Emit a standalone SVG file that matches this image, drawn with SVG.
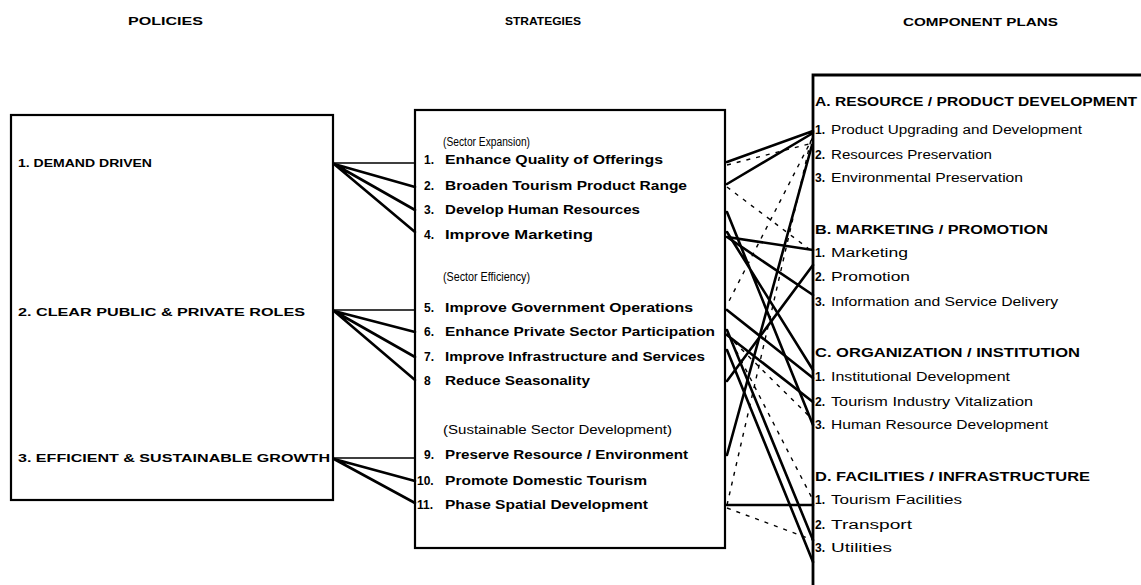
<svg xmlns="http://www.w3.org/2000/svg" width="1141" height="585" viewBox="0 0 1141 585">
<style>
text{font-family:"Liberation Sans",Arial,sans-serif;fill:#000}
.h{font-size:11px;font-weight:bold}
.p{font-size:11.5px;font-weight:bold}
.s{font-size:12px;font-weight:bold}
.sh{font-size:12px}
.ch{font-size:12px;font-weight:bold}
.ci{font-size:12px}
.n{font-weight:bold}
.box{fill:#fff;stroke:#000;stroke-width:2.2}
.c{stroke:#000;stroke-width:2.6;fill:none;stroke-linecap:round}
.hz{stroke:#000;stroke-width:1.6;fill:none}
.d{stroke:#000;stroke-width:1.4;fill:none;stroke-dasharray:4 6}
</style>
<rect width="1141" height="585" fill="#fff"/>
<g id="headers">
<text class="h" x="128" y="25" textLength="75" lengthAdjust="spacingAndGlyphs">POLICIES</text>
<text class="h" x="505" y="25" textLength="76" lengthAdjust="spacingAndGlyphs">STRATEGIES</text>
<text class="h" x="903" y="26" textLength="155" lengthAdjust="spacingAndGlyphs">COMPONENT PLANS</text>
</g>
<g id="policies">
<rect class="box" x="11" y="115" width="322" height="385"/>
<text class="p" x="18" y="167" textLength="134" lengthAdjust="spacingAndGlyphs">1. DEMAND DRIVEN</text>
<text class="p" x="18" y="316" textLength="287" lengthAdjust="spacingAndGlyphs">2. CLEAR PUBLIC &amp; PRIVATE ROLES</text>
<text class="p" x="18" y="462" textLength="312" lengthAdjust="spacingAndGlyphs">3. EFFICIENT &amp; SUSTAINABLE GROWTH</text>
</g>
<g id="strategies">
<rect class="box" x="415" y="110" width="310" height="438"/>
<text class="sh" x="443" y="146" textLength="87" lengthAdjust="spacingAndGlyphs">(Sector Expansion)</text>
<text class="s" y="164"><tspan x="424">1.</tspan><tspan x="445" textLength="218" lengthAdjust="spacingAndGlyphs">Enhance Quality of Offerings</tspan></text>
<text class="s" y="190"><tspan x="424">2.</tspan><tspan x="445" textLength="242" lengthAdjust="spacingAndGlyphs">Broaden Tourism Product Range</tspan></text>
<text class="s" y="214"><tspan x="424">3.</tspan><tspan x="445" textLength="195" lengthAdjust="spacingAndGlyphs">Develop Human Resources</tspan></text>
<text class="s" y="239"><tspan x="424">4.</tspan><tspan x="445" textLength="148" lengthAdjust="spacingAndGlyphs">Improve Marketing</tspan></text>
<text class="sh" x="443" y="281" textLength="87" lengthAdjust="spacingAndGlyphs">(Sector Efficiency)</text>
<text class="s" y="312"><tspan x="424">5.</tspan><tspan x="445" textLength="248" lengthAdjust="spacingAndGlyphs">Improve Government Operations</tspan></text>
<text class="s" y="336"><tspan x="424">6.</tspan><tspan x="445" textLength="270" lengthAdjust="spacingAndGlyphs">Enhance Private Sector Participation</tspan></text>
<text class="s" y="361"><tspan x="424">7.</tspan><tspan x="445" textLength="260" lengthAdjust="spacingAndGlyphs">Improve Infrastructure and Services</tspan></text>
<text class="s" y="385"><tspan x="424">8</tspan><tspan x="445" textLength="145" lengthAdjust="spacingAndGlyphs">Reduce Seasonality</tspan></text>
<text class="sh" x="443" y="434" textLength="229" lengthAdjust="spacingAndGlyphs">(Sustainable Sector Development)</text>
<text class="s" y="459"><tspan x="424">9.</tspan><tspan x="445" textLength="243" lengthAdjust="spacingAndGlyphs">Preserve Resource / Environment</tspan></text>
<text class="s" y="485"><tspan x="417">10.</tspan><tspan x="445" textLength="202" lengthAdjust="spacingAndGlyphs">Promote Domestic Tourism</tspan></text>
<text class="s" y="509"><tspan x="417">11.</tspan><tspan x="445" textLength="203" lengthAdjust="spacingAndGlyphs">Phase Spatial Development</tspan></text>
</g>
<g id="component-plans">
<path d="M1150,75 H813 V590" fill="none" stroke="#000" stroke-width="2.8"/>
<text class="ch" x="815" y="106" textLength="322" lengthAdjust="spacingAndGlyphs">A. RESOURCE / PRODUCT DEVELOPMENT</text>
<text class="ci" y="134"><tspan class="n" x="815">1.</tspan><tspan x="831" textLength="251" lengthAdjust="spacingAndGlyphs">Product Upgrading and Development</tspan></text>
<text class="ci" y="159"><tspan class="n" x="815">2.</tspan><tspan x="831" textLength="161" lengthAdjust="spacingAndGlyphs">Resources Preservation</tspan></text>
<text class="ci" y="182"><tspan class="n" x="815">3.</tspan><tspan x="831" textLength="192" lengthAdjust="spacingAndGlyphs">Environmental Preservation</tspan></text>
<text class="ch" x="815" y="234" textLength="233" lengthAdjust="spacingAndGlyphs">B. MARKETING / PROMOTION</text>
<text class="ci" y="257"><tspan class="n" x="815">1.</tspan><tspan x="831" textLength="77" lengthAdjust="spacingAndGlyphs">Marketing</tspan></text>
<text class="ci" y="281"><tspan class="n" x="815">2.</tspan><tspan x="831" textLength="79" lengthAdjust="spacingAndGlyphs">Promotion</tspan></text>
<text class="ci" y="306"><tspan class="n" x="815">3.</tspan><tspan x="831" textLength="227" lengthAdjust="spacingAndGlyphs">Information and Service Delivery</tspan></text>
<text class="ch" x="815" y="357" textLength="265" lengthAdjust="spacingAndGlyphs">C. ORGANIZATION / INSTITUTION</text>
<text class="ci" y="381"><tspan class="n" x="815">1.</tspan><tspan x="831" textLength="179" lengthAdjust="spacingAndGlyphs">Institutional Development</tspan></text>
<text class="ci" y="406"><tspan class="n" x="815">2.</tspan><tspan x="831" textLength="202" lengthAdjust="spacingAndGlyphs">Tourism Industry Vitalization</tspan></text>
<text class="ci" y="429"><tspan class="n" x="815">3.</tspan><tspan x="831" textLength="217" lengthAdjust="spacingAndGlyphs">Human Resource Development</tspan></text>
<text class="ch" x="815" y="481" textLength="275" lengthAdjust="spacingAndGlyphs">D. FACILITIES / INFRASTRUCTURE</text>
<text class="ci" y="504"><tspan class="n" x="815">1.</tspan><tspan x="831" textLength="131" lengthAdjust="spacingAndGlyphs">Tourism Facilities</tspan></text>
<text class="ci" y="529"><tspan class="n" x="815">2.</tspan><tspan x="831" textLength="81" lengthAdjust="spacingAndGlyphs">Transport</tspan></text>
<text class="ci" y="552"><tspan class="n" x="815">3.</tspan><tspan x="831" textLength="61" lengthAdjust="spacingAndGlyphs">Utilities</tspan></text>
</g>
<g id="connectors">
<path class="hz" d="M333,163 H415 M333,310 H415 M333,458 H415"/>
<path class="c" d="M334,164 L415,187 M334,164 L415,210 M334,164 L415,232"/>
<path class="c" d="M334,311 L415,332 M334,311 L415,357 M334,311 L415,380"/>
<path class="c" d="M334,459 L415,481 M334,459 L415,503"/>
<path class="c" d="M727,162 L813,131 M727,184 L813,133 M727,455 L812,145"/>
<path class="c" d="M727,237 L813,250 M727,237 L813,295 M727,381 L813,265"/>
<path class="c" d="M727,212 L813,425 M727,232 L813,370"/>
<path class="c" d="M727,310 L813,378 M727,335 L813,402 M727,330 L813,540 M727,350 L813,562"/>
<path class="c" d="M727,505 L813,505"/>
<path class="d" d="M727,165 L813,143 M813,137 L727,305 M727,187 L813,252 M727,335 L813,420 M727,333 L813,500 M727,505 L813,131 M727,508 L813,540"/>
</g>
</svg>
